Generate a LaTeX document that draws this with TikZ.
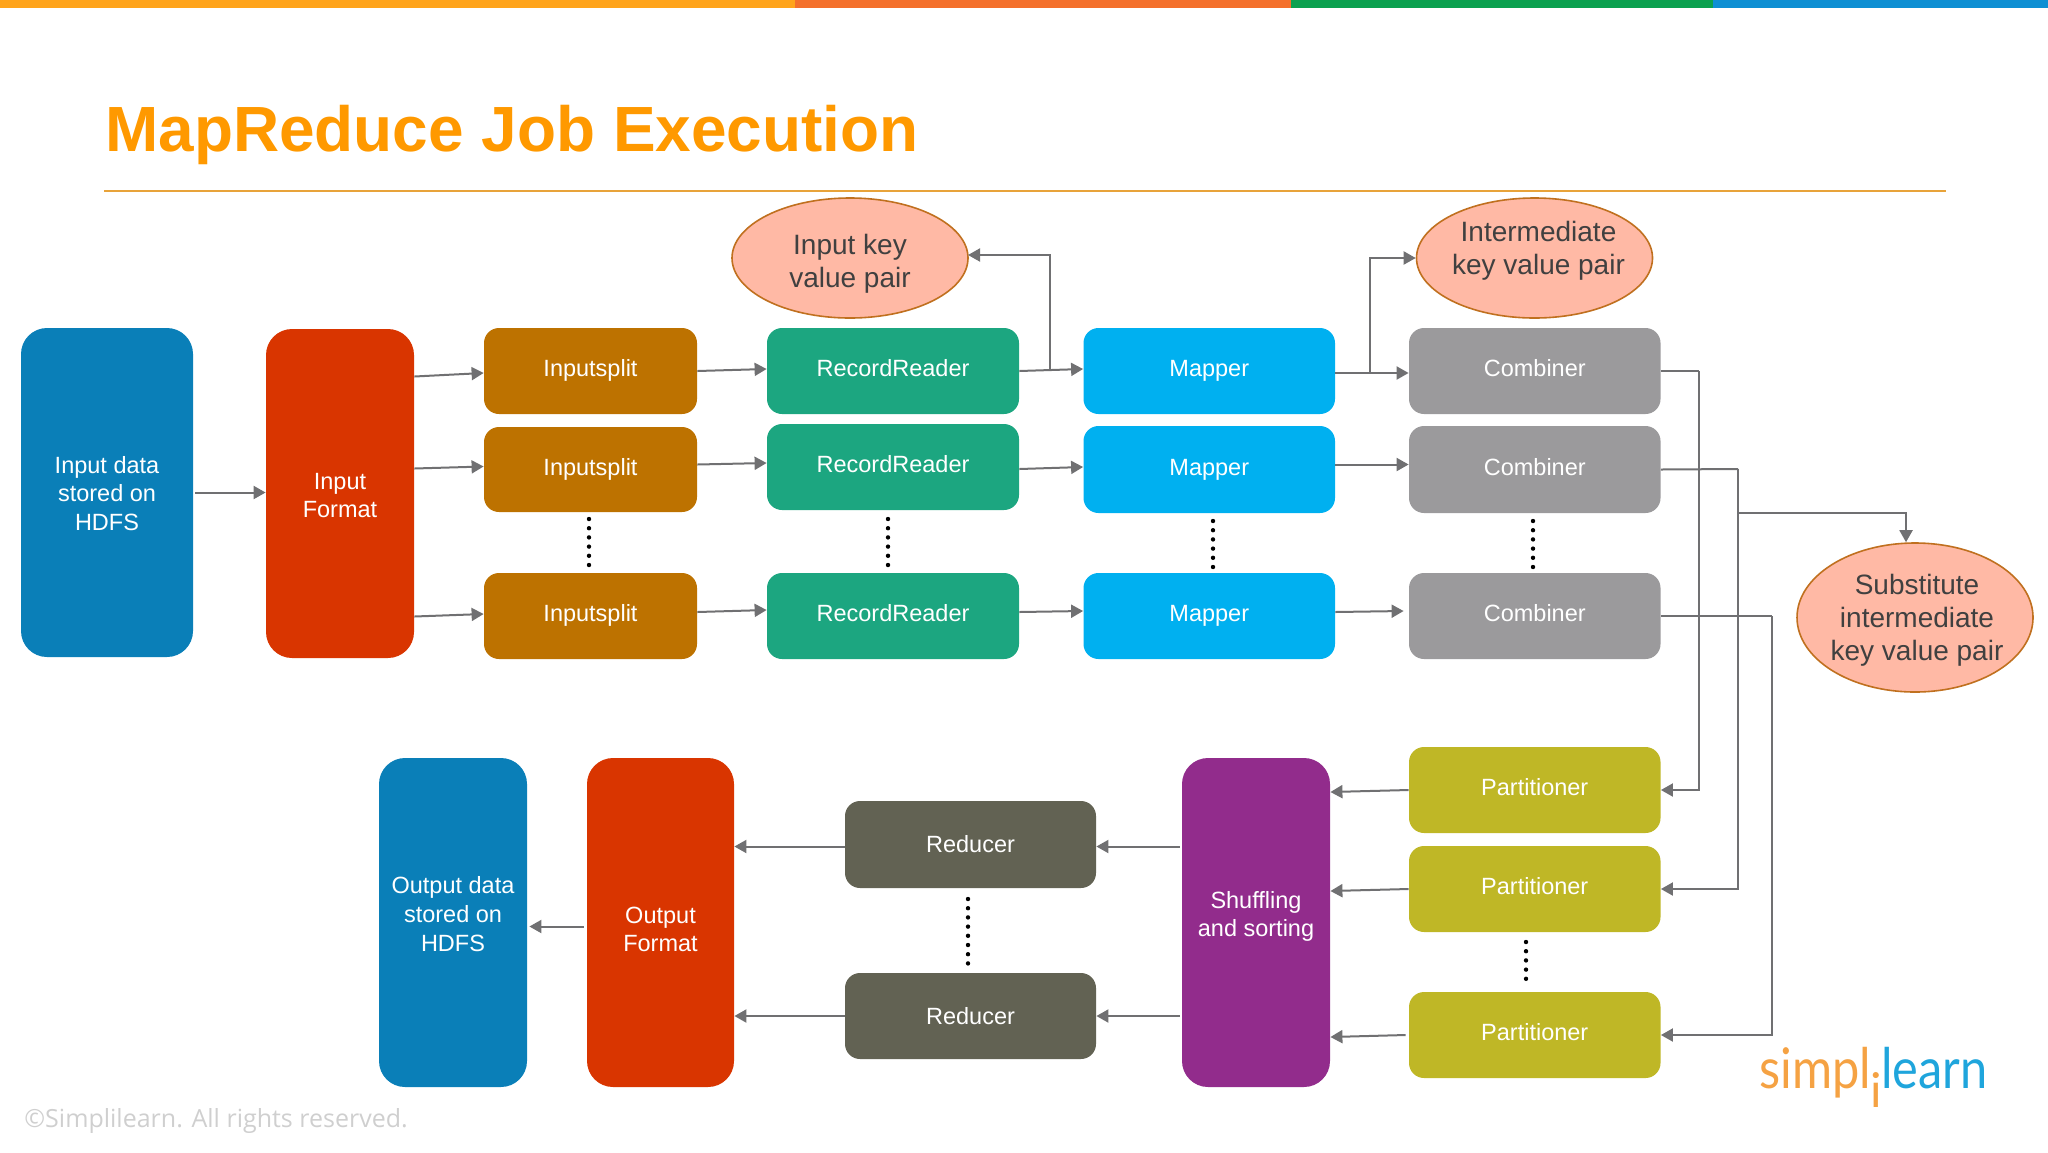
\documentclass[tikz,border=0pt]{standalone}
\usepackage{fontspec}
\setmainfont{Liberation Sans}
\newfontfamily\logofont[FakeStretch=0.87]{Lato}
\newfontfamily\logofontplain{Lato}
\newfontfamily\footfont{Open Sans}
\usetikzlibrary{arrows.meta,shapes.geometric}
\definecolor{cBarA}{HTML}{FFA41B}
\definecolor{cBarB}{HTML}{F4702B}
\definecolor{cBarC}{HTML}{0BA14F}
\definecolor{cBarD}{HTML}{0E8FD3}
\definecolor{cTitle}{HTML}{FF9900}
\definecolor{cRule}{HTML}{E8A33A}
\definecolor{cStore}{HTML}{0A7FB8}
\definecolor{cFormat}{HTML}{D93500}
\definecolor{cSplit}{HTML}{BD7200}
\definecolor{cReader}{HTML}{1CA680}
\definecolor{cMapper}{HTML}{00B0F0}
\definecolor{cComb}{HTML}{9B9A9C}
\definecolor{cPart}{HTML}{BFB726}
\definecolor{cShuf}{HTML}{922C8C}
\definecolor{cRed}{HTML}{626253}
\definecolor{cEll}{HTML}{FFB9A5}
\definecolor{cEllB}{HTML}{C0701F}
\definecolor{cLine}{HTML}{707072}
\definecolor{cInk}{HTML}{404040}
\definecolor{cFoot}{HTML}{CFCFCF}
\definecolor{cLogoA}{HTML}{F5A243}
\definecolor{cLogoB}{HTML}{1FA5DC}
\tikzset{
  bx/.style={rounded corners=7.5pt,text=white,align=center,inner sep=0pt,font=\fontsize{11.75}{14}\selectfont},
  bxone/.style={bx,text height=8.8pt,text depth=3pt},
  bigbx/.style={rounded corners=13pt,inner sep=0pt},
  bigtext/.style={text=white,align=center,inner sep=0pt,font=\fontsize{11.75}{14.3}\selectfont},
  el/.style={ellipse,draw=cEllB,line width=0.8pt,fill=cEll,inner sep=0pt},
  eltext/.style={text=cInk,align=center,font=\fontsize{14}{16.5}\selectfont},
  conn/.style={draw=cLine,line width=1pt,-{Triangle[length=6pt,width=6.5pt]}},
  plainl/.style={draw=cLine,line width=1pt},
  dotsv/.style={draw=black,line width=2.2pt,line cap=round,dash pattern=on 0pt off 4.6pt}
}
\newcommand{\mrbox}[7][bxone]{\node[#1,fill=#6,minimum width={(#4-#2)*0.5pt},minimum height={(#5-#3)*0.5pt}] (#7) at ({(#2+#4)/2},{(#3+#5)/2})}
\newcommand{\mrbig}[8]{\node[bigbx,fill=#6,minimum width={(#4-#2)*0.5pt},minimum height={(#5-#3)*0.5pt},label={[bigtext,shift={(0,#7)}]center:#8}] (#1) at ({(#2+#4)/2},{(#3+#5)/2}) {};}
\newcommand{\mrell}[8]{\node[el,minimum width={(#4-#2)*0.5pt},minimum height={(#5-#3)*0.5pt},label={[eltext,shift={(#6,#7)}]center:#8}] (#1) at ({(#2+#4)/2},{(#3+#5)/2}) {};}
\newcommand{\mrdots}[4]{\coordinate (#1a) at (#2,#3);\coordinate (#1b) at (#2,#4);\draw[dotsv] (#1a) -- (#1b);}
\begin{document}
\begin{tikzpicture}[x=0.5pt,y=-0.5pt]
\useasboundingbox (0,0) rectangle (2048,1152);
\fill[cBarA] (0,0) rectangle (795,8);
\fill[cBarB] (795,0) rectangle (1291,8);
\fill[cBarC] (1291,0) rectangle (1713,8);
\fill[cBarD] (1713,0) rectangle (2048,8);
\node[anchor=base west,inner sep=0pt,text=cTitle,font=\fontsize{31.95}{36}\selectfont\bfseries] (title) at (105,151) {MapReduce Job Execution};
\coordinate (ruleA) at (104,190.5);\coordinate (ruleB) at (1946,190.5);
\draw[cRule,line width=1pt] (ruleA) -- (ruleB);
% boxes
\mrbig{store}{21}{328}{193}{657}{cStore}{1}{Input data\\stored on\\HDFS}
\mrbig{fmt}{266}{329}{414}{658}{cFormat}{2}{Input\\Format}
\mrbox{484}{328}{697}{414}{cSplit}{sA} {Inputsplit};
\mrbox{484}{427}{697}{512}{cSplit}{sB} {Inputsplit};
\mrbox{484}{573}{697}{659}{cSplit}{sC} {Inputsplit};
\mrbox{767}{328}{1019}{414}{cReader}{rA} {RecordReader};
\mrbox{767}{424}{1019}{510}{cReader}{rB} {RecordReader};
\mrbox{767}{573}{1019}{659}{cReader}{rC} {RecordReader};
\mrbox{1083.5}{328}{1335}{414}{cMapper}{mA} {Mapper};
\mrbox{1083.5}{426}{1335}{513}{cMapper}{mB} {Mapper};
\mrbox{1083.5}{573}{1335}{659}{cMapper}{mC} {Mapper};
\mrbox{1409}{328}{1660.5}{414}{cComb}{cA} {Combiner};
\mrbox{1409}{426}{1660.5}{513}{cComb}{cB} {Combiner};
\mrbox{1409}{573}{1660.5}{659}{cComb}{cC} {Combiner};
\mrbox{1409}{747}{1660.5}{833}{cPart}{pA} {Partitioner};
\mrbox{1409}{846}{1660.5}{932}{cPart}{pB} {Partitioner};
\mrbox{1409}{992}{1660.5}{1078}{cPart}{pC} {Partitioner};
\mrbig{shuf}{1182}{758}{1330}{1087}{cShuf}{-6}{Shuffling\\and sorting}
\mrbox[bx]{845}{801}{1096}{888}{cRed}{redA} {Reducer};
\mrbox[bx]{845}{973}{1096}{1059}{cRed}{redB} {Reducer};
\mrbig{ofmt}{587}{758}{734}{1087}{cFormat}{7}{Output\\Format}
\mrbig{ostore}{379}{758}{527}{1087}{cStore}{-8.5}{Output data\\stored on\\HDFS}
% ellipses
\mrell{eA}{732}{198}{968}{318}{0}{6}{Input key\\value pair}
\mrell{eB}{1416.5}{198}{1652.5}{318}{4}{-7}{Intermediate\\key value pair}
\mrell{eC}{1797}{543}{2033}{692}{2}{3}{Substitute\\intermediate\\key value pair}
% connectors
\draw[conn] (store.east|-fmt.west) ++(2,-1) coordinate (aA) -- (fmt.west|-aA);
\draw[conn] ([shift={(0,-117)}]fmt.east) -- ([shift={(0,2)}]sA.west);
\draw[conn] ([shift={(0,-25)}]fmt.east) -- ([shift={(0,-3)}]sB.west);
\draw[conn] ([shift={(0,123)}]fmt.east) -- ([shift={(0,-2)}]sC.west);
\draw[conn] (sA.east) -- ([shift={(0,-2)}]rA.west);
\draw[conn] ([shift={(0,-5)}]sB.east) -- ([shift={(0,-4)}]rB.west);
\draw[conn] ([shift={(0,-4)}]sC.east) -- ([shift={(0,-6)}]rC.west);
\draw[conn] (rA.east) -- ([shift={(0,-2)}]mA.west);
\draw[conn] ([shift={(0,2)}]rB.east) -- ([shift={(0,-2.5)}]mB.west);
\draw[conn] ([shift={(0,-4)}]rC.east) -- ([shift={(0,-5)}]mC.west);
\draw[conn] (mA.east) ++(0,2) coordinate (mAo) -- ([shift={(0,2)}]cA.west);
\draw[conn] (mB.east) ++(0,-5) coordinate (mBo) -- (cB.west|-mBo);
\draw[conn] ([shift={(0,-4)}]mC.east) -- ([shift={(-5,-5)}]cC.west);
\coordinate (brA) at (1050,370);
\coordinate (brAe) at (968,255);
\draw[conn] (brA) |- (brAe);
\coordinate (brB) at (1370,373);
\draw[conn] (brB) |- (eB.west);
\coordinate (vA) at (1699,371);
\coordinate (vB) at (1738,469);
\coordinate (vC) at (1772,616);
\draw[plainl] (cA.east) -- (vA);
\draw[conn] (vA) |- (pA.east);
\draw[plainl] (cB.east) -- (vB);
\draw[conn] (vB) |- (pB.east);
\draw[plainl] (cC.east) -- (vC);
\draw[conn] (vC) |- (pC.east);
\coordinate (brC) at (1738,513);
\draw[conn] (brC) -| ([shift={(-9,0)}]eC.north);
\draw[conn] (pA.west) -- ([shift={(0,2)}]shuf.east|-pA.west);
\draw[conn] (pB.west) -- ([shift={(0,2)}]shuf.east|-pB.west);
\draw[conn] ([shift={(-3,0)}]pC.west) -- ([shift={(0,2)}]shuf.east|-pC.west);
\draw[conn] ([shift={(-2,2)}]shuf.west|-redA.east) -- ([shift={(0,2)}]redA.east);
\draw[conn] ([shift={(-2,0)}]shuf.west|-redB.east) -- (redB.east);
\draw[conn] ([shift={(0,2)}]redA.west) -- ([shift={(0,2)}]ofmt.east|-redA.west);
\draw[conn] (redB.west) -- (ofmt.east|-redB.west);
\draw[conn] ([shift={(-3,4)}]ofmt.west) -- ([shift={(2,4)}]ostore.east);
% dots
\mrdots{dA}{589}{519}{566}
\mrdots{dB}{888}{519}{566}
\mrdots{dC}{1213}{521}{567}
\mrdots{dD}{1533}{521}{567}
\mrdots{dE}{1526}{942}{987}
\mrdots{dF}{968}{899}{964}
% footer and logo
\node[anchor=base west,inner sep=0pt,text=cFoot,font=\footfont\fontsize{12.5}{15}\selectfont] (foot) at (24,1127) {©Simplilearn. All rights reserved.};
\node[anchor=base west,inner sep=0pt,text=cLogoA,font=\logofont\fontsize{28}{30}\selectfont] (logoA) at (1759,1088) {simpl};
\node[anchor=base,inner sep=0pt,text=cLogoA,font=\logofontplain\fontsize{24}{26}\selectfont] (logoI) at (1876,1107) {i};
\node[anchor=base west,inner sep=0pt,text=cLogoB,font=\logofont\fontsize{28}{30}\selectfont] (logoB) at (1881,1088) {learn};
\end{tikzpicture}
\end{document}
